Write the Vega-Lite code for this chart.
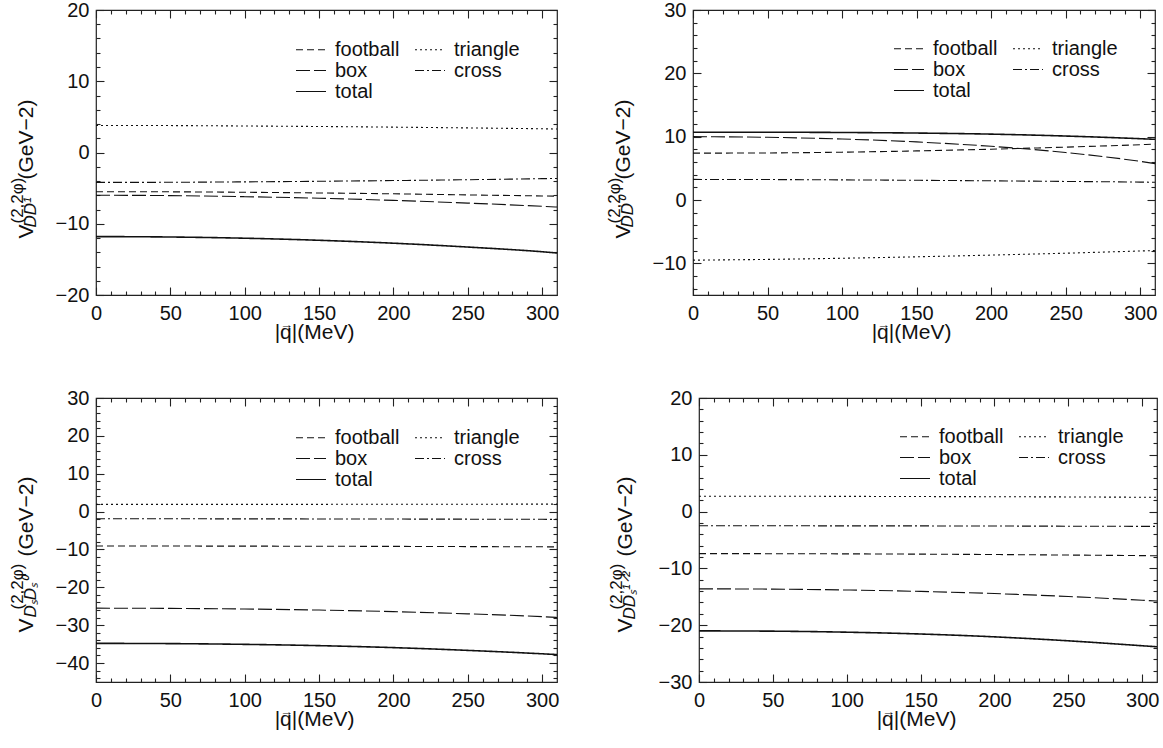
{
  "$schema": "https://vega.github.io/schema/vega-lite/v6.json",
  "background": "white",
  "padding": {"left": 7, "top": -1, "right": 0, "bottom": 0},
  "datasets": {
    "tl": [
      {"series": "football", "q": 0, "v": -5.5}, {"series": "football", "q": 50, "v": -5.52}, {"series": "football", "q": 100, "v": -5.58}, {"series": "football", "q": 150, "v": -5.68}, {"series": "football", "q": 200, "v": -5.8}, {"series": "football", "q": 250, "v": -5.95}, {"series": "football", "q": 300, "v": -6.1}, {"series": "football", "q": 310, "v": -6.13},
      {"series": "triangle", "q": 0, "v": 3.8}, {"series": "triangle", "q": 50, "v": 3.78}, {"series": "triangle", "q": 100, "v": 3.72}, {"series": "triangle", "q": 150, "v": 3.65}, {"series": "triangle", "q": 200, "v": 3.56}, {"series": "triangle", "q": 250, "v": 3.45}, {"series": "triangle", "q": 300, "v": 3.33}, {"series": "triangle", "q": 310, "v": 3.3},
      {"series": "box", "q": 0, "v": -6.0}, {"series": "box", "q": 50, "v": -6.05}, {"series": "box", "q": 100, "v": -6.2}, {"series": "box", "q": 150, "v": -6.42}, {"series": "box", "q": 200, "v": -6.72}, {"series": "box", "q": 250, "v": -7.1}, {"series": "box", "q": 300, "v": -7.55}, {"series": "box", "q": 310, "v": -7.65},
      {"series": "cross", "q": 0, "v": -4.2}, {"series": "cross", "q": 50, "v": -4.18}, {"series": "cross", "q": 100, "v": -4.12}, {"series": "cross", "q": 150, "v": -4.04}, {"series": "cross", "q": 200, "v": -3.94}, {"series": "cross", "q": 250, "v": -3.82}, {"series": "cross", "q": 300, "v": -3.67}, {"series": "cross", "q": 310, "v": -3.64},
      {"series": "total", "q": 0, "v": -11.8}, {"series": "total", "q": 50, "v": -11.86}, {"series": "total", "q": 100, "v": -12.03}, {"series": "total", "q": 150, "v": -12.32}, {"series": "total", "q": 200, "v": -12.73}, {"series": "total", "q": 250, "v": -13.27}, {"series": "total", "q": 300, "v": -13.93}, {"series": "total", "q": 310, "v": -14.1}
    ],
    "tr": [
      {"series": "football", "q": 0, "v": 7.4}, {"series": "football", "q": 50, "v": 7.43}, {"series": "football", "q": 100, "v": 7.55}, {"series": "football", "q": 150, "v": 7.75}, {"series": "football", "q": 200, "v": 8.02}, {"series": "football", "q": 250, "v": 8.35}, {"series": "football", "q": 300, "v": 8.73}, {"series": "football", "q": 310, "v": 8.82},
      {"series": "triangle", "q": 0, "v": -9.5}, {"series": "triangle", "q": 50, "v": -9.38}, {"series": "triangle", "q": 100, "v": -9.2}, {"series": "triangle", "q": 150, "v": -8.97}, {"series": "triangle", "q": 200, "v": -8.7}, {"series": "triangle", "q": 250, "v": -8.4}, {"series": "triangle", "q": 300, "v": -8.05}, {"series": "triangle", "q": 310, "v": -7.98},
      {"series": "box", "q": 0, "v": 10.0}, {"series": "box", "q": 50, "v": 9.9}, {"series": "box", "q": 100, "v": 9.63}, {"series": "box", "q": 150, "v": 9.17}, {"series": "box", "q": 200, "v": 8.48}, {"series": "box", "q": 250, "v": 7.5}, {"series": "box", "q": 300, "v": 6.1}, {"series": "box", "q": 310, "v": 5.75},
      {"series": "cross", "q": 0, "v": 3.25}, {"series": "cross", "q": 50, "v": 3.23}, {"series": "cross", "q": 100, "v": 3.18}, {"series": "cross", "q": 150, "v": 3.11}, {"series": "cross", "q": 200, "v": 3.03}, {"series": "cross", "q": 250, "v": 2.93}, {"series": "cross", "q": 300, "v": 2.83}, {"series": "cross", "q": 310, "v": 2.8},
      {"series": "total", "q": 0, "v": 10.7}, {"series": "total", "q": 50, "v": 10.7}, {"series": "total", "q": 100, "v": 10.66}, {"series": "total", "q": 150, "v": 10.57}, {"series": "total", "q": 200, "v": 10.4}, {"series": "total", "q": 250, "v": 10.1}, {"series": "total", "q": 300, "v": 9.68}, {"series": "total", "q": 310, "v": 9.58}
    ],
    "bl": [
      {"series": "football", "q": 0, "v": -9.1}, {"series": "football", "q": 50, "v": -9.1}, {"series": "football", "q": 100, "v": -9.12}, {"series": "football", "q": 150, "v": -9.15}, {"series": "football", "q": 200, "v": -9.19}, {"series": "football", "q": 250, "v": -9.24}, {"series": "football", "q": 300, "v": -9.3}, {"series": "football", "q": 310, "v": -9.31},
      {"series": "triangle", "q": 0, "v": 1.9}, {"series": "triangle", "q": 50, "v": 1.9}, {"series": "triangle", "q": 100, "v": 1.91}, {"series": "triangle", "q": 150, "v": 1.92}, {"series": "triangle", "q": 200, "v": 1.93}, {"series": "triangle", "q": 250, "v": 1.95}, {"series": "triangle", "q": 300, "v": 1.97}, {"series": "triangle", "q": 310, "v": 1.97},
      {"series": "box", "q": 0, "v": -25.5}, {"series": "box", "q": 50, "v": -25.56}, {"series": "box", "q": 100, "v": -25.72}, {"series": "box", "q": 150, "v": -26.0}, {"series": "box", "q": 200, "v": -26.42}, {"series": "box", "q": 250, "v": -27.0}, {"series": "box", "q": 300, "v": -27.75}, {"series": "box", "q": 310, "v": -27.95},
      {"series": "cross", "q": 0, "v": -1.9}, {"series": "cross", "q": 50, "v": -1.9}, {"series": "cross", "q": 100, "v": -1.92}, {"series": "cross", "q": 150, "v": -1.94}, {"series": "cross", "q": 200, "v": -1.97}, {"series": "cross", "q": 250, "v": -2.0}, {"series": "cross", "q": 300, "v": -2.04}, {"series": "cross", "q": 310, "v": -2.05},
      {"series": "total", "q": 0, "v": -34.8}, {"series": "total", "q": 50, "v": -34.86}, {"series": "total", "q": 100, "v": -35.06}, {"series": "total", "q": 150, "v": -35.4}, {"series": "total", "q": 200, "v": -35.92}, {"series": "total", "q": 250, "v": -36.65}, {"series": "total", "q": 300, "v": -37.55}, {"series": "total", "q": 310, "v": -37.75}
    ],
    "br": [
      {"series": "football", "q": 0, "v": -7.4}, {"series": "football", "q": 50, "v": -7.41}, {"series": "football", "q": 100, "v": -7.44}, {"series": "football", "q": 150, "v": -7.49}, {"series": "football", "q": 200, "v": -7.56}, {"series": "football", "q": 250, "v": -7.65}, {"series": "football", "q": 300, "v": -7.75}, {"series": "football", "q": 310, "v": -7.77},
      {"series": "triangle", "q": 0, "v": 2.7}, {"series": "triangle", "q": 50, "v": 2.7}, {"series": "triangle", "q": 100, "v": 2.68}, {"series": "triangle", "q": 150, "v": 2.65}, {"series": "triangle", "q": 200, "v": 2.62}, {"series": "triangle", "q": 250, "v": 2.58}, {"series": "triangle", "q": 300, "v": 2.53}, {"series": "triangle", "q": 310, "v": 2.52},
      {"series": "box", "q": 0, "v": -13.6}, {"series": "box", "q": 50, "v": -13.65}, {"series": "box", "q": 100, "v": -13.8}, {"series": "box", "q": 150, "v": -14.05}, {"series": "box", "q": 200, "v": -14.43}, {"series": "box", "q": 250, "v": -14.95}, {"series": "box", "q": 300, "v": -15.6}, {"series": "box", "q": 310, "v": -15.75},
      {"series": "cross", "q": 0, "v": -2.5}, {"series": "cross", "q": 50, "v": -2.5}, {"series": "cross", "q": 100, "v": -2.51}, {"series": "cross", "q": 150, "v": -2.52}, {"series": "cross", "q": 200, "v": -2.54}, {"series": "cross", "q": 250, "v": -2.57}, {"series": "cross", "q": 300, "v": -2.6}, {"series": "cross", "q": 310, "v": -2.61},
      {"series": "total", "q": 0, "v": -21.0}, {"series": "total", "q": 50, "v": -21.05}, {"series": "total", "q": 100, "v": -21.23}, {"series": "total", "q": 150, "v": -21.55}, {"series": "total", "q": 200, "v": -22.05}, {"series": "total", "q": 250, "v": -22.75}, {"series": "total", "q": 300, "v": -23.62}, {"series": "total", "q": 310, "v": -23.8}
    ]
  },
  "spacing": 44,
  "resolve": {"scale": {"strokeDash": "independent"}, "legend": {"strokeDash": "independent"}},
  "vconcat": [
    {
      "spacing": 43,
      "resolve": {"scale": {"strokeDash": "independent"}, "legend": {"strokeDash": "independent"}},
      "hconcat": [
        {
          "width": 461, "height": 285,
          "data": {"name": "tl"},
          "resolve": {"axis": {"x": "independent", "y": "independent"}},
          "layer": [
            {
              "mark": {"type": "line", "color": "#111", "interpolate": "monotone"},
              "encoding": {
                "x": {"field": "q", "type": "quantitative", "scale": {"domain": [0, 310], "nice": false, "zero": false},
                  "axis": {"orient": "bottom", "values": [0, 50, 100, 150, 200, 250, 300], "tickSize": -8, "labelPadding": 16, "title": "|q|(MeV)", "titleFontSize": 21, "titleAlign": "center", "titleBaseline": "alphabetic", "titleX": 218, "titleY": 43}},
                "y": {"field": "v", "type": "quantitative", "scale": {"domain": [-20, 20], "nice": false, "zero": false},
                  "axis": {"orient": "left", "values": [-20, -10, 0, 10, 20], "tickSize": -8, "labelPadding": 15, "title": "V", "titleFontSize": 21, "titleAngle": -90, "titleAlign": "left", "titleBaseline": "alphabetic", "titleX": -64, "titleY": 228}},
                "strokeDash": {"field": "series", "type": "nominal",
                  "scale": {"domain": ["football", "box", "total", "triangle", "cross"], "range": [[7, 4], [14, 4], [1, 0], [2, 3], [9, 3, 2, 3]]},
                  "legend": {"orient": "none", "legendX": 199, "legendY": 32, "title": null}},
                "strokeWidth": {"condition": {"test": "datum.series === 'total'", "value": 1.6}, "value": 1.1}
              }
            },
            {
              "mark": {"type": "line", "opacity": 0},
              "encoding": {
                "x": {"field": "q", "type": "quantitative", "scale": {"domain": [0, 310], "nice": false, "zero": false},
                  "axis": {"orient": "bottom", "values": [10, 20, 30, 40, 60, 70, 80, 90, 110, 120, 130, 140, 160, 170, 180, 190, 210, 220, 230, 240, 260, 270, 280, 290], "tickSize": -4, "labels": false, "title": "\u2192", "titleFontSize": 13, "titleAlign": "center", "titleBaseline": "middle", "titleX": 190, "titleY": 29}},
                "y": {"field": "v", "type": "quantitative", "scale": {"domain": [-20, 20], "nice": false, "zero": false},
                  "axis": {"orient": "left", "values": [-18, -16, -14, -12, -8, -6, -4, -2, 2, 4, 6, 8, 12, 14, 16, 18], "tickSize": -4, "labels": false, "title": "(2,2φ)", "titleFontSize": 17, "titleAngle": -90, "titleAlign": "left", "titleBaseline": "alphabetic", "titleX": -74, "titleY": 213}},
                "detail": {"field": "series"}
              }
            },
            {
              "mark": {"type": "line", "opacity": 0},
              "encoding": {
                "x": {"field": "q", "type": "quantitative", "scale": {"domain": [0, 310], "nice": false, "zero": false},
                  "axis": {"orient": "top", "values": [0, 50, 100, 150, 200, 250, 300], "tickSize": -8, "labels": false, "title": null}},
                "y": {"field": "v", "type": "quantitative", "scale": {"domain": [-20, 20], "nice": false, "zero": false},
                  "axis": {"orient": "left", "ticks": false, "labels": false, "title": "DD¹", "titleFontSize": 17, "titleFontStyle": "italic", "titleAngle": -90, "titleAlign": "left", "titleBaseline": "alphabetic", "titleX": -61, "titleY": 217}},
                "detail": {"field": "series"}
              }
            },
            {
              "mark": {"type": "line", "opacity": 0},
              "encoding": {
                "x": {"field": "q", "type": "quantitative", "scale": {"domain": [0, 310], "nice": false, "zero": false},
                  "axis": {"orient": "top", "values": [10, 20, 30, 40, 60, 70, 80, 90, 110, 120, 130, 140, 160, 170, 180, 190, 210, 220, 230, 240, 260, 270, 280, 290], "tickSize": -4, "labels": false, "title": null}},
                "y": {"field": "v", "type": "quantitative", "scale": {"domain": [-20, 20], "nice": false, "zero": false},
                  "axis": {"orient": "left", "ticks": false, "labels": false, "title": "(GeV\u22122)", "titleFontSize": 21, "titleAngle": -90, "titleAlign": "left", "titleBaseline": "alphabetic", "titleX": -64, "titleY": 169}},
                "detail": {"field": "series"}
              }
            },
            {
              "mark": {"type": "line", "opacity": 0},
              "encoding": {
                "x": {"field": "q", "type": "quantitative", "scale": {"domain": [0, 310], "nice": false, "zero": false}, "axis": null},
                "y": {"field": "v", "type": "quantitative", "scale": {"domain": [-20, 20], "nice": false, "zero": false},
                  "axis": {"orient": "right", "values": [-20, -10, 0, 10, 20], "tickSize": -8, "labels": false, "title": null}},
                "detail": {"field": "series"}
              }
            },
            {
              "mark": {"type": "line", "opacity": 0},
              "encoding": {
                "x": {"field": "q", "type": "quantitative", "scale": {"domain": [0, 310], "nice": false, "zero": false}, "axis": null},
                "y": {"field": "v", "type": "quantitative", "scale": {"domain": [-20, 20], "nice": false, "zero": false},
                  "axis": {"orient": "right", "values": [-18, -16, -14, -12, -8, -6, -4, -2, 2, 4, 6, 8, 12, 14, 16, 18], "tickSize": -4, "labels": false, "title": null}},
                "detail": {"field": "series"}
              }
            }
          ]
        },
        {
          "width": 462, "height": 285,
          "data": {"name": "tr"},
          "resolve": {"axis": {"x": "independent", "y": "independent"}},
          "layer": [
            {
              "mark": {"type": "line", "color": "#111", "interpolate": "monotone"},
              "encoding": {
                "x": {"field": "q", "type": "quantitative", "scale": {"domain": [0, 310], "nice": false, "zero": false},
                  "axis": {"orient": "bottom", "values": [0, 50, 100, 150, 200, 250, 300], "tickSize": -8, "labelPadding": 16, "title": "|q|(MeV)", "titleFontSize": 21, "titleAlign": "center", "titleBaseline": "alphabetic", "titleX": 218, "titleY": 43}},
                "y": {"field": "v", "type": "quantitative", "scale": {"domain": [-15, 30], "nice": false, "zero": false},
                  "axis": {"orient": "left", "values": [-10, 0, 10, 20, 30], "tickSize": -8, "labelPadding": 15, "title": "V", "titleFontSize": 21, "titleAngle": -90, "titleAlign": "left", "titleBaseline": "alphabetic", "titleX": -64, "titleY": 228}},
                "strokeDash": {"field": "series", "type": "nominal",
                  "scale": {"domain": ["football", "box", "total", "triangle", "cross"], "range": [[7, 4], [14, 4], [1, 0], [2, 3], [9, 3, 2, 3]]},
                  "legend": {"orient": "none", "legendX": 200, "legendY": 31, "title": null}},
                "strokeWidth": {"condition": {"test": "datum.series === 'total'", "value": 1.6}, "value": 1.1}
              }
            },
            {
              "mark": {"type": "line", "opacity": 0},
              "encoding": {
                "x": {"field": "q", "type": "quantitative", "scale": {"domain": [0, 310], "nice": false, "zero": false},
                  "axis": {"orient": "bottom", "values": [10, 20, 30, 40, 60, 70, 80, 90, 110, 120, 130, 140, 160, 170, 180, 190, 210, 220, 230, 240, 260, 270, 280, 290], "tickSize": -4, "labels": false, "title": "\u2192", "titleFontSize": 13, "titleAlign": "center", "titleBaseline": "middle", "titleX": 190, "titleY": 29}},
                "y": {"field": "v", "type": "quantitative", "scale": {"domain": [-15, 30], "nice": false, "zero": false},
                  "axis": {"orient": "left", "values": [-14, -12, -8, -6, -4, -2, 2, 4, 6, 8, 12, 14, 16, 18, 22, 24, 26, 28], "tickSize": -4, "labels": false, "title": "(2,2φ)", "titleFontSize": 17, "titleAngle": -90, "titleAlign": "left", "titleBaseline": "alphabetic", "titleX": -74, "titleY": 213}},
                "detail": {"field": "series"}
              }
            },
            {
              "mark": {"type": "line", "opacity": 0},
              "encoding": {
                "x": {"field": "q", "type": "quantitative", "scale": {"domain": [0, 310], "nice": false, "zero": false},
                  "axis": {"orient": "top", "values": [0, 50, 100, 150, 200, 250, 300], "tickSize": -8, "labels": false, "title": null}},
                "y": {"field": "v", "type": "quantitative", "scale": {"domain": [-15, 30], "nice": false, "zero": false},
                  "axis": {"orient": "left", "ticks": false, "labels": false, "title": "DD⁰", "titleFontSize": 17, "titleFontStyle": "italic", "titleAngle": -90, "titleAlign": "left", "titleBaseline": "alphabetic", "titleX": -61, "titleY": 217}},
                "detail": {"field": "series"}
              }
            },
            {
              "mark": {"type": "line", "opacity": 0},
              "encoding": {
                "x": {"field": "q", "type": "quantitative", "scale": {"domain": [0, 310], "nice": false, "zero": false},
                  "axis": {"orient": "top", "values": [10, 20, 30, 40, 60, 70, 80, 90, 110, 120, 130, 140, 160, 170, 180, 190, 210, 220, 230, 240, 260, 270, 280, 290], "tickSize": -4, "labels": false, "title": null}},
                "y": {"field": "v", "type": "quantitative", "scale": {"domain": [-15, 30], "nice": false, "zero": false},
                  "axis": {"orient": "left", "ticks": false, "labels": false, "title": "(GeV\u22122)", "titleFontSize": 21, "titleAngle": -90, "titleAlign": "left", "titleBaseline": "alphabetic", "titleX": -64, "titleY": 169}},
                "detail": {"field": "series"}
              }
            },
            {
              "mark": {"type": "line", "opacity": 0},
              "encoding": {
                "x": {"field": "q", "type": "quantitative", "scale": {"domain": [0, 310], "nice": false, "zero": false}, "axis": null},
                "y": {"field": "v", "type": "quantitative", "scale": {"domain": [-15, 30], "nice": false, "zero": false},
                  "axis": {"orient": "right", "values": [-10, 0, 10, 20, 30], "tickSize": -8, "labels": false, "title": null}},
                "detail": {"field": "series"}
              }
            },
            {
              "mark": {"type": "line", "opacity": 0},
              "encoding": {
                "x": {"field": "q", "type": "quantitative", "scale": {"domain": [0, 310], "nice": false, "zero": false}, "axis": null},
                "y": {"field": "v", "type": "quantitative", "scale": {"domain": [-15, 30], "nice": false, "zero": false},
                  "axis": {"orient": "right", "values": [-14, -12, -8, -6, -4, -2, 2, 4, 6, 8, 12, 14, 16, 18, 22, 24, 26, 28], "tickSize": -4, "labels": false, "title": null}},
                "detail": {"field": "series"}
              }
            }
          ]
        }
      ]
    },
    {
      "spacing": 45,
      "resolve": {"scale": {"strokeDash": "independent"}, "legend": {"strokeDash": "independent"}},
      "hconcat": [
        {
          "width": 461, "height": 284,
          "data": {"name": "bl"},
          "resolve": {"axis": {"x": "independent", "y": "independent"}},
          "layer": [
            {
              "mark": {"type": "line", "color": "#111", "interpolate": "monotone"},
              "encoding": {
                "x": {"field": "q", "type": "quantitative", "scale": {"domain": [0, 310], "nice": false, "zero": false},
                  "axis": {"orient": "bottom", "values": [0, 50, 100, 150, 200, 250, 300], "tickSize": -8, "labelPadding": 16, "title": "|q|(MeV)", "titleFontSize": 21, "titleAlign": "center", "titleBaseline": "alphabetic", "titleX": 218, "titleY": 43}},
                "y": {"field": "v", "type": "quantitative", "scale": {"domain": [-45, 30], "nice": false, "zero": false},
                  "axis": {"orient": "left", "values": [-40, -30, -20, -10, 0, 10, 20, 30], "tickSize": -8, "labelPadding": 15, "title": "V", "titleFontSize": 21, "titleAngle": -90, "titleAlign": "left", "titleBaseline": "alphabetic", "titleX": -64, "titleY": 234}},
                "strokeDash": {"field": "series", "type": "nominal",
                  "scale": {"domain": ["football", "box", "total", "triangle", "cross"], "range": [[7, 4], [14, 4], [1, 0], [2, 3], [9, 3, 2, 3]]},
                  "legend": {"orient": "none", "legendX": 199, "legendY": 32, "title": null}},
                "strokeWidth": {"condition": {"test": "datum.series === 'total'", "value": 1.6}, "value": 1.1}
              }
            },
            {
              "mark": {"type": "line", "opacity": 0},
              "encoding": {
                "x": {"field": "q", "type": "quantitative", "scale": {"domain": [0, 310], "nice": false, "zero": false},
                  "axis": {"orient": "bottom", "values": [10, 20, 30, 40, 60, 70, 80, 90, 110, 120, 130, 140, 160, 170, 180, 190, 210, 220, 230, 240, 260, 270, 280, 290], "tickSize": -4, "labels": false, "title": "\u2192", "titleFontSize": 13, "titleAlign": "center", "titleBaseline": "middle", "titleX": 190, "titleY": 29}},
                "y": {"field": "v", "type": "quantitative", "scale": {"domain": [-45, 30], "nice": false, "zero": false},
                  "axis": {"orient": "left", "values": [-44, -42, -38, -36, -34, -32, -28, -26, -24, -22, -18, -16, -14, -12, -8, -6, -4, -2, 2, 4, 6, 8, 12, 14, 16, 18, 22, 24, 26, 28], "tickSize": -4, "labels": false, "title": "(2,2φ)", "titleFontSize": 17, "titleAngle": -90, "titleAlign": "left", "titleBaseline": "alphabetic", "titleX": -74, "titleY": 211}},
                "detail": {"field": "series"}
              }
            },
            {
              "mark": {"type": "line", "opacity": 0},
              "encoding": {
                "x": {"field": "q", "type": "quantitative", "scale": {"domain": [0, 310], "nice": false, "zero": false},
                  "axis": {"orient": "top", "values": [0, 50, 100, 150, 200, 250, 300], "tickSize": -8, "labels": false, "title": null}},
                "y": {"field": "v", "type": "quantitative", "scale": {"domain": [-45, 30], "nice": false, "zero": false},
                  "axis": {"orient": "left", "ticks": false, "labels": false, "title": "DₛDₛ⁰", "titleFontSize": 17, "titleFontStyle": "italic", "titleAngle": -90, "titleAlign": "left", "titleBaseline": "alphabetic", "titleX": -61, "titleY": 219}},
                "detail": {"field": "series"}
              }
            },
            {
              "mark": {"type": "line", "opacity": 0},
              "encoding": {
                "x": {"field": "q", "type": "quantitative", "scale": {"domain": [0, 310], "nice": false, "zero": false},
                  "axis": {"orient": "top", "values": [10, 20, 30, 40, 60, 70, 80, 90, 110, 120, 130, 140, 160, 170, 180, 190, 210, 220, 230, 240, 260, 270, 280, 290], "tickSize": -4, "labels": false, "title": null}},
                "y": {"field": "v", "type": "quantitative", "scale": {"domain": [-45, 30], "nice": false, "zero": false},
                  "axis": {"orient": "left", "ticks": false, "labels": false, "title": "(GeV\u22122)", "titleFontSize": 21, "titleAngle": -90, "titleAlign": "left", "titleBaseline": "alphabetic", "titleX": -64, "titleY": 158}},
                "detail": {"field": "series"}
              }
            },
            {
              "mark": {"type": "line", "opacity": 0},
              "encoding": {
                "x": {"field": "q", "type": "quantitative", "scale": {"domain": [0, 310], "nice": false, "zero": false}, "axis": null},
                "y": {"field": "v", "type": "quantitative", "scale": {"domain": [-45, 30], "nice": false, "zero": false},
                  "axis": {"orient": "right", "values": [-40, -30, -20, -10, 0, 10, 20, 30], "tickSize": -8, "labels": false, "title": null}},
                "detail": {"field": "series"}
              }
            },
            {
              "mark": {"type": "line", "opacity": 0},
              "encoding": {
                "x": {"field": "q", "type": "quantitative", "scale": {"domain": [0, 310], "nice": false, "zero": false}, "axis": null},
                "y": {"field": "v", "type": "quantitative", "scale": {"domain": [-45, 30], "nice": false, "zero": false},
                  "axis": {"orient": "right", "values": [-44, -42, -38, -36, -34, -32, -28, -26, -24, -22, -18, -16, -14, -12, -8, -6, -4, -2, 2, 4, 6, 8, 12, 14, 16, 18, 22, 24, 26, 28], "tickSize": -4, "labels": false, "title": null}},
                "detail": {"field": "series"}
              }
            }
          ]
        },
        {
          "width": 458, "height": 284,
          "data": {"name": "br"},
          "resolve": {"axis": {"x": "independent", "y": "independent"}},
          "layer": [
            {
              "mark": {"type": "line", "color": "#111", "interpolate": "monotone"},
              "encoding": {
                "x": {"field": "q", "type": "quantitative", "scale": {"domain": [0, 310], "nice": false, "zero": false},
                  "axis": {"orient": "bottom", "values": [0, 50, 100, 150, 200, 250, 300], "tickSize": -8, "labelPadding": 16, "title": "|q|(MeV)", "titleFontSize": 21, "titleAlign": "center", "titleBaseline": "alphabetic", "titleX": 217, "titleY": 43}},
                "y": {"field": "v", "type": "quantitative", "scale": {"domain": [-30, 20], "nice": false, "zero": false},
                  "axis": {"orient": "left", "values": [-30, -20, -10, 0, 10, 20], "tickSize": -8, "labelPadding": 15, "title": "V", "titleFontSize": 21, "titleAngle": -90, "titleAlign": "left", "titleBaseline": "alphabetic", "titleX": -68, "titleY": 234}},
                "strokeDash": {"field": "series", "type": "nominal",
                  "scale": {"domain": ["football", "box", "total", "triangle", "cross"], "range": [[7, 4], [14, 4], [1, 0], [2, 3], [9, 3, 2, 3]]},
                  "legend": {"orient": "none", "legendX": 200, "legendY": 31, "title": null}},
                "strokeWidth": {"condition": {"test": "datum.series === 'total'", "value": 1.6}, "value": 1.1}
              }
            },
            {
              "mark": {"type": "line", "opacity": 0},
              "encoding": {
                "x": {"field": "q", "type": "quantitative", "scale": {"domain": [0, 310], "nice": false, "zero": false},
                  "axis": {"orient": "bottom", "values": [10, 20, 30, 40, 60, 70, 80, 90, 110, 120, 130, 140, 160, 170, 180, 190, 210, 220, 230, 240, 260, 270, 280, 290], "tickSize": -4, "labels": false, "title": "\u2192", "titleFontSize": 13, "titleAlign": "center", "titleBaseline": "middle", "titleX": 189, "titleY": 29}},
                "y": {"field": "v", "type": "quantitative", "scale": {"domain": [-30, 20], "nice": false, "zero": false},
                  "axis": {"orient": "left", "values": [-28, -26, -24, -22, -18, -16, -14, -12, -8, -6, -4, -2, 2, 4, 6, 8, 12, 14, 16, 18], "tickSize": -4, "labels": false, "title": "(2,2φ)", "titleFontSize": 17, "titleAngle": -90, "titleAlign": "left", "titleBaseline": "alphabetic", "titleX": -78, "titleY": 211}},
                "detail": {"field": "series"}
              }
            },
            {
              "mark": {"type": "line", "opacity": 0},
              "encoding": {
                "x": {"field": "q", "type": "quantitative", "scale": {"domain": [0, 310], "nice": false, "zero": false},
                  "axis": {"orient": "top", "values": [0, 50, 100, 150, 200, 250, 300], "tickSize": -8, "labels": false, "title": null}},
                "y": {"field": "v", "type": "quantitative", "scale": {"domain": [-30, 20], "nice": false, "zero": false},
                  "axis": {"orient": "left", "ticks": false, "labels": false, "title": "DDₛ¹ᐟ²", "titleFontSize": 17, "titleFontStyle": "italic", "titleAngle": -90, "titleAlign": "left", "titleBaseline": "alphabetic", "titleX": -65, "titleY": 221}},
                "detail": {"field": "series"}
              }
            },
            {
              "mark": {"type": "line", "opacity": 0},
              "encoding": {
                "x": {"field": "q", "type": "quantitative", "scale": {"domain": [0, 310], "nice": false, "zero": false},
                  "axis": {"orient": "top", "values": [10, 20, 30, 40, 60, 70, 80, 90, 110, 120, 130, 140, 160, 170, 180, 190, 210, 220, 230, 240, 260, 270, 280, 290], "tickSize": -4, "labels": false, "title": null}},
                "y": {"field": "v", "type": "quantitative", "scale": {"domain": [-30, 20], "nice": false, "zero": false},
                  "axis": {"orient": "left", "ticks": false, "labels": false, "title": "(GeV\u22122)", "titleFontSize": 21, "titleAngle": -90, "titleAlign": "left", "titleBaseline": "alphabetic", "titleX": -68, "titleY": 158}},
                "detail": {"field": "series"}
              }
            },
            {
              "mark": {"type": "line", "opacity": 0},
              "encoding": {
                "x": {"field": "q", "type": "quantitative", "scale": {"domain": [0, 310], "nice": false, "zero": false}, "axis": null},
                "y": {"field": "v", "type": "quantitative", "scale": {"domain": [-30, 20], "nice": false, "zero": false},
                  "axis": {"orient": "right", "values": [-30, -20, -10, 0, 10, 20], "tickSize": -8, "labels": false, "title": null}},
                "detail": {"field": "series"}
              }
            },
            {
              "mark": {"type": "line", "opacity": 0},
              "encoding": {
                "x": {"field": "q", "type": "quantitative", "scale": {"domain": [0, 310], "nice": false, "zero": false}, "axis": null},
                "y": {"field": "v", "type": "quantitative", "scale": {"domain": [-30, 20], "nice": false, "zero": false},
                  "axis": {"orient": "right", "values": [-28, -26, -24, -22, -18, -16, -14, -12, -8, -6, -4, -2, 2, 4, 6, 8, 12, 14, 16, 18], "tickSize": -4, "labels": false, "title": null}},
                "detail": {"field": "series"}
              }
            }
          ]
        }
      ]
    }
  ],
  "config": {
    "font": "Liberation Sans",
    "view": {"stroke": "#222", "strokeWidth": 1.2},
    "axis": {"grid": false, "domain": false, "labelFont": "Liberation Sans", "labelFontSize": 20, "labelColor": "#111", "tickColor": "#222", "tickWidth": 1.1, "titleFont": "Liberation Sans", "titleFontWeight": "normal", "titleColor": "#111", "labelFlush": false, "labelOverlap": false},
    "legend": {"labelFont": "Liberation Sans", "labelFontSize": 20, "labelColor": "#111", "symbolType": "stroke", "symbolSize": 900, "symbolStrokeWidth": 1.2, "symbolStrokeColor": "#111", "labelOffset": 8, "columnPadding": 14, "rowPadding": 0, "clipHeight": 15, "columns": 2, "labelLimit": 300}
  }
}
